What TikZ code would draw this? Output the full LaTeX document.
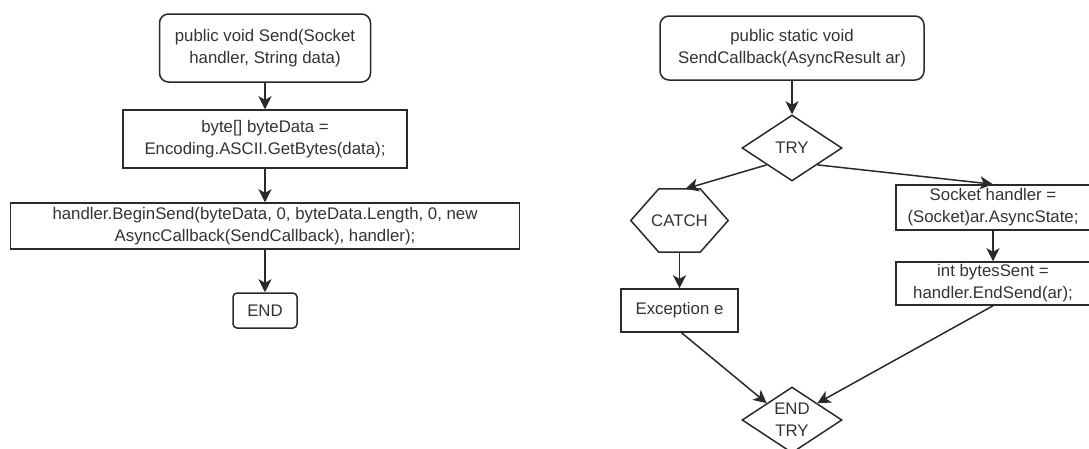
\documentclass[tikz,border=0pt]{standalone}
\usepackage{fontspec}
\setmainfont{Liberation Sans}
\usetikzlibrary{shapes.geometric,arrows.meta,calc}
\definecolor{ink}{HTML}{333333}
\definecolor{edge}{HTML}{2A2A2A}

\begin{document}
\begin{tikzpicture}[x=1pt,y=-1pt,
  every node/.style={font=\fontsize{16.8}{22}\selectfont, text=ink, align=center, inner sep=0pt},
  startbox/.style={draw=edge, line width=1.5pt, rectangle, rounded corners=9pt},
  procbox/.style={draw=edge, line width=1.5pt, rectangle},
  decision/.style={draw=edge, line width=1.5pt, diamond, aspect=1.52, minimum width=100, minimum height=66},
  outline/.style={draw=edge, line width=1.5pt, line join=miter},
  flow/.style={draw=edge, line width=1.5pt, -{Stealth[length=13pt,width=13pt,inset=3.5pt]}}
]
\clip (0,0) rectangle (1089,448);
\fill[white] (0,0) rectangle (1089,448);

% Send(): left column
\node[startbox, minimum width=211, minimum height=68] (s1) at (265,48)
  {public void Send(Socket\\handler, String data)};
\node[procbox, minimum width=284, minimum height=58] (b1) at (265,139)
  {byte[] byteData =\\Encoding.ASCII.GetBytes(data);};
\node[procbox, minimum width=509, minimum height=46] (b2) at (265,226)
  {handler.BeginSend(byteData, 0, byteData.Length, 0, new\\AsyncCallback(SendCallback), handler);};
\node[startbox, rounded corners=4pt, minimum width=64, minimum height=35] (e1) at (265,310.5) {END};

\draw[flow] (s1.south) -- (b1.north);
\draw[flow] (b1.south) -- (b2.north);
\draw[flow] (b2.south) -- (e1.north);

% SendCallback(): right column
\node[startbox, minimum width=264, minimum height=64] (s2) at (792,48)
  {public static void\\SendCallback(AsyncResult ar)};
\node[decision] (try) at (792,148) {TRY};
\node[minimum width=97, minimum height=63] (catch) at (679.5,220.5) {CATCH};
\draw[outline] (catch.west) -- ([xshift=28pt]catch.north west) -- ([xshift=-28pt]catch.north east)
  -- (catch.east) -- ([xshift=-28pt]catch.south east) -- ([xshift=28pt]catch.south west) -- cycle;
\node[procbox, minimum width=117, minimum height=43] (exc) at (679.5,310.5) {Exception e};
\node[procbox, minimum width=194, minimum height=45] (sock) at (993,207.5)
  {Socket handler =\\(Socket)ar.AsyncState;};
\node[procbox, minimum width=194, minimum height=43] (sent) at (993,283.5)
  {int bytesSent =\\handler.EndSend(ar);};
\node[decision] (endtry) at (792,420) {END\\TRY};

\draw[flow] (s2.south) -- (try.north);
\draw[flow] ($(try.west)!0.5!(try.south)$) -- ([xshift=6pt]catch.north);
\draw[flow] ($(try.east)!0.5!(try.south)$) -- (sock.north);
\draw[flow] (catch.south) -- (exc.north);
\draw[flow] (sock.south) -- (sent.north);
\draw[flow] ([xshift=2pt]exc.south) -- ($(endtry.west)!0.5!(endtry.north)$);
\draw[flow] (sent.south) -- ($(endtry.east)!0.5!(endtry.north)$);
\end{tikzpicture}
\end{document}
